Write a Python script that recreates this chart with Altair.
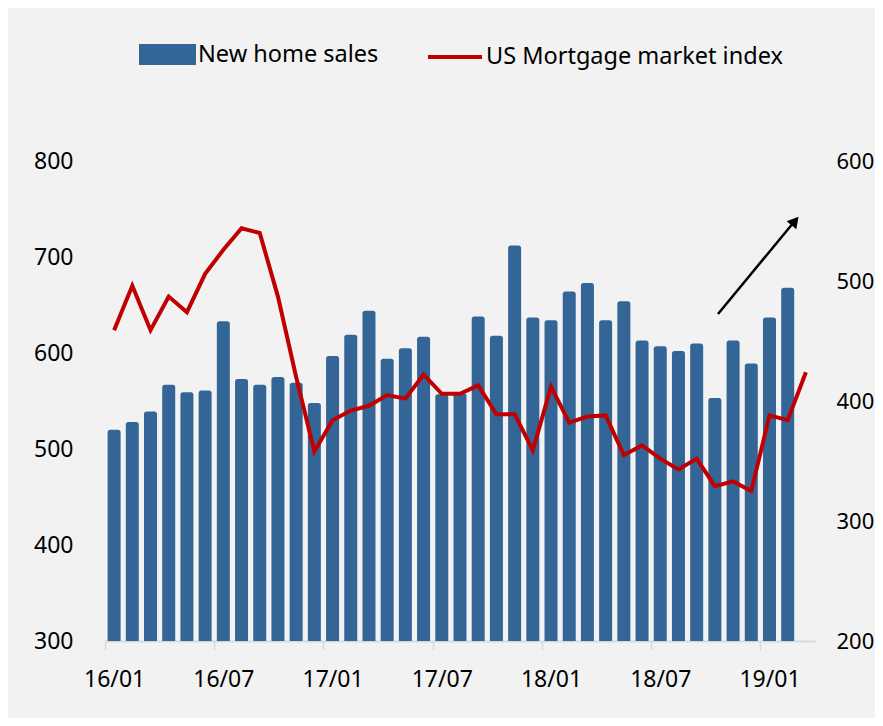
import altair as alt
import pandas as pd

months = ["16/01", "16/02", "16/03", "16/04", "16/05", "16/06", "16/07", "16/08", "16/09", "16/10", "16/11", "16/12",
          "17/01", "17/02", "17/03", "17/04", "17/05", "17/06", "17/07", "17/08", "17/09", "17/10", "17/11", "17/12",
          "18/01", "18/02", "18/03", "18/04", "18/05", "18/06", "18/07", "18/08", "18/09", "18/10", "18/11", "18/12",
          "19/01", "19/02", "19/03"]
new_home_sales = [520, 528, 539, 567, 559, 561, 633, 573, 567, 575, 569, 548,
                  597, 619, 644, 594, 605, 617, 557, 558, 638, 618, 712, 637,
                  634, 664, 673, 634, 654, 613, 607, 602, 610, 553, 613, 589,
                  637, 668]
mortgage_index = [459, 496, 459, 487, 474, 506, 526, 544, 540, 487, 420, 358,
                  384, 392, 396, 405, 402, 422, 406, 406, 413, 389, 389, 359,
                  412, 382, 387, 388, 355, 363, 352, 343, 352, 329, 333, 325,
                  388, 384, 424]
tick_labels = ["16/01", "16/07", "17/01", "17/07", "18/01", "18/07", "19/01"]
left_ticks = [300, 400, 500, 600, 700, 800]
right_ticks = [200, 300, 400, 500, 600]

bar_df = pd.DataFrame({"month": months[:len(new_home_sales)], "sales": new_home_sales,
                       "series": "New home sales"})
line_df = pd.DataFrame({"month": months, "index": mortgage_index,
                        "series": "US Mortgage market index"})

FONT = "Noto Sans"
BLUE = "#346597"
RED = "#C00000"

x_scale = alt.Scale(domain=months, paddingInner=0.286, paddingOuter=0.143)
x_axis = alt.Axis(values=tick_labels, labelAngle=0, tickOffset=-9.1, labelOffset=9.1,
                  tickSize=9, tickColor="#d9d9d9", tickWidth=1.5, domainColor="#d9d9d9",
                  domainWidth=2, labelPadding=18, labelFont=FONT, labelFontSize=23,
                  labelColor="black", grid=False, title=None)

bars = alt.Chart(bar_df).mark_bar(cornerRadiusTopLeft=2.5, cornerRadiusTopRight=2.5).encode(
    x=alt.X("month:N", scale=x_scale, axis=x_axis, sort=months),
    y=alt.Y("sales:Q", scale=alt.Scale(domain=[300, 800], nice=False, zero=False, clamp=True),
            axis=alt.Axis(values=left_ticks, domain=False, ticks=False, grid=False,
                          labelPadding=32, labelFont=FONT, labelFontSize=23,
                          labelColor="black", title=None)),
    y2=alt.datum(300),
    color=alt.Color("series:N", scale=alt.Scale(domain=["New home sales"], range=[BLUE]),
                    legend=alt.Legend(orient="none", legendX=34, legendY=-135, title=None,
                                      symbolType="M-1,-0.37H1V0.37H-1Z", symbolSize=3249,
                                      symbolStrokeWidth=0, symbolOpacity=1, labelOffset=2,
                                      labelLimit=500,
                                      labelFont=FONT, labelFontSize=23.5, labelColor="black")),
)

line = alt.Chart(line_df).mark_line(strokeWidth=4).encode(
    x=alt.X("month:N", scale=x_scale, sort=months),
    y=alt.Y("index:Q", scale=alt.Scale(domain=[200, 600], nice=False, zero=False),
            axis=alt.Axis(orient="right", values=right_ticks, domain=False, ticks=False,
                          grid=False, labelPadding=21, labelFont=FONT, labelFontSize=22,
                          labelColor="black", title=None)),
    stroke=alt.Stroke("series:N", scale=alt.Scale(domain=["US Mortgage market index"], range=[RED]),
                      legend=alt.Legend(orient="none", legendX=321, legendY=-133, title=None,
                                        symbolType="stroke", symbolSize=2916,
                                        symbolStrokeWidth=4, labelOffset=2, labelLimit=500,
                                        labelFont=FONT, labelFontSize=23.5, labelColor="black")),
)

one = alt.Data(values=[{"a": 1}])
arrow_shaft = alt.Chart(one).mark_rule(color="black", strokeWidth=2.5).encode(
    x=alt.value(613), y=alt.value(153), x2=alt.value(689), y2=alt.value(61))
arrow_head = alt.Chart(one).mark_point(shape="triangle-up", filled=True, color="black",
                                       size=160, angle=40, opacity=1).encode(
    x=alt.value(690), y=alt.value(60))

chart = alt.layer(bars, line, arrow_shaft, arrow_head).resolve_scale(
    y="independent", color="independent", stroke="independent"
).properties(
    width=710, height=480,
    autosize=alt.AutoSizeParams(type="none"),
    padding={"left": 97, "top": 153, "right": 60, "bottom": 77},
    background="#f2f2f2",
).configure_view(stroke=None)

chart.save("out.html", embed_options={"renderer": "svg", "actions": False})
